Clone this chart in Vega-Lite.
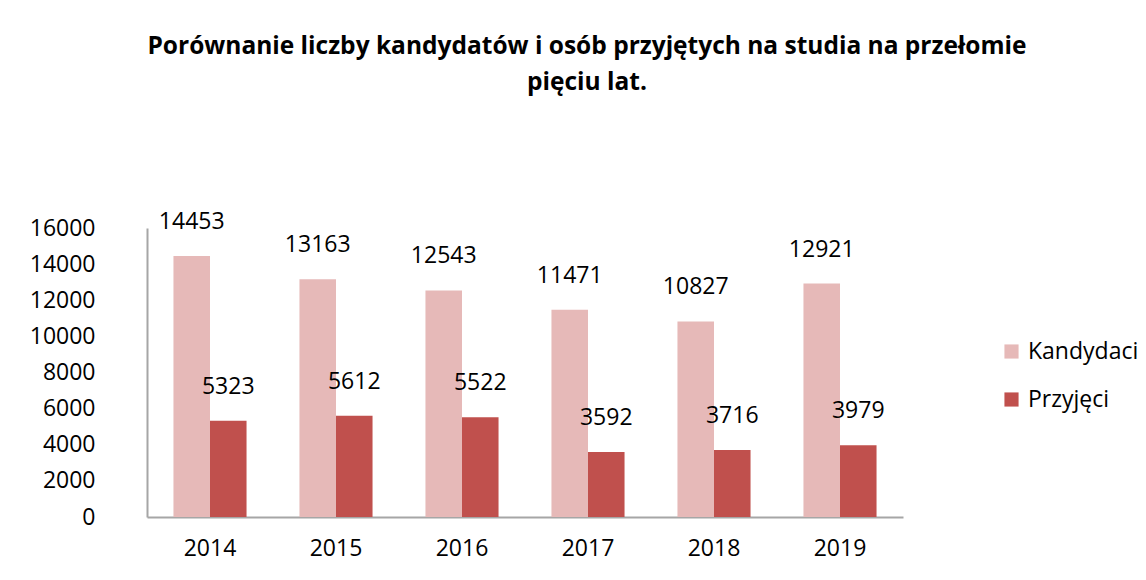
{
  "$schema": "https://vega.github.io/schema/vega-lite/v6.json",
  "autosize": {"type": "none"},
  "width": 756,
  "height": 289,
  "padding": {"left": 147, "top": 228, "right": 243, "bottom": 63},
  "background": "white",
  "config": {"view": {"stroke": null}},
  "title": {
    "text": ["Porównanie liczby kandydatów i osób przyjętych na studia na przełomie", "pięciu lat."],
    "font": "Open Sans",
    "fontSize": 24.5,
    "fontWeight": "bold",
    "color": "#000000",
    "anchor": "middle",
    "dx": 62,
    "offset": 115,
    "lineHeight": 36
  },
  "data": {
    "values": [
      {"rok": "2014", "seria": "Kandydaci", "liczba": 14453},
      {"rok": "2014", "seria": "Przyjęci", "liczba": 5323},
      {"rok": "2015", "seria": "Kandydaci", "liczba": 13163},
      {"rok": "2015", "seria": "Przyjęci", "liczba": 5612},
      {"rok": "2016", "seria": "Kandydaci", "liczba": 12543},
      {"rok": "2016", "seria": "Przyjęci", "liczba": 5522},
      {"rok": "2017", "seria": "Kandydaci", "liczba": 11471},
      {"rok": "2017", "seria": "Przyjęci", "liczba": 3592},
      {"rok": "2018", "seria": "Kandydaci", "liczba": 10827},
      {"rok": "2018", "seria": "Przyjęci", "liczba": 3716},
      {"rok": "2019", "seria": "Kandydaci", "liczba": 12921},
      {"rok": "2019", "seria": "Przyjęci", "liczba": 3979}
    ]
  },
  "encoding": {
    "x": {
      "field": "rok", "type": "nominal", "title": null,
      "scale": {"paddingInner": 0.42, "paddingOuter": 0.21},
      "axis": {"labelAngle": 0, "labelFont": "Open Sans", "labelFontSize": 23, "labelColor": "#000000", "ticks": false, "domainColor": "#a6a6a6", "domainWidth": 2, "labelPadding": 20}
    },
    "xOffset": {"field": "seria", "type": "nominal", "sort": ["Kandydaci", "Przyjęci"]},
    "y": {
      "field": "liczba", "type": "quantitative", "title": null,
      "scale": {"domain": [0, 16000], "nice": false},
      "axis": {"values": [0, 2000, 4000, 6000, 8000, 10000, 12000, 14000, 16000], "format": "d", "grid": false, "ticks": false, "labelFont": "Open Sans", "labelFontSize": 23, "labelColor": "#000000", "domainColor": "#a6a6a6", "domainWidth": 2, "labelPadding": 52}
    }
  },
  "layer": [
    {
      "mark": {"type": "bar"},
      "encoding": {
        "color": {
          "field": "seria", "type": "nominal", "title": null,
          "scale": {"domain": ["Kandydaci", "Przyjęci"], "range": ["#E6B9B8", "#C0504D"]},
          "legend": {"orient": "none", "legendX": 853, "legendY": 112, "symbolType": "square", "symbolSize": 200, "symbolStrokeWidth": 0, "labelFont": "Open Sans", "labelFontSize": 23, "labelColor": "#000000", "rowPadding": 24, "labelOffset": 5}
        }
      }
    },
    {
      "mark": {"type": "text", "baseline": "alphabetic", "dy": -27, "font": "Open Sans", "fontSize": 23, "color": "#000000"},
      "encoding": {"text": {"field": "liczba", "type": "quantitative", "format": "d"}}
    }
  ]
}
